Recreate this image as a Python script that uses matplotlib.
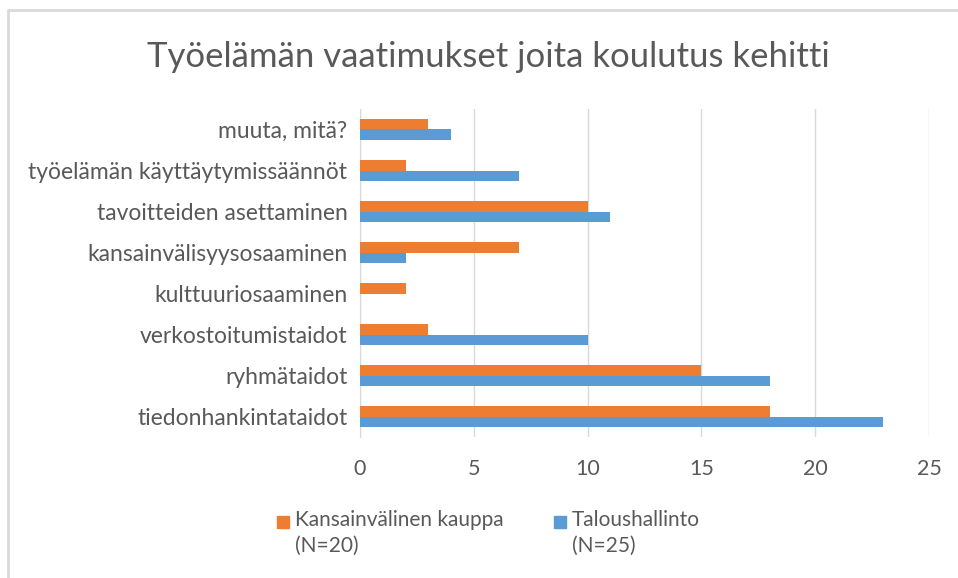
import matplotlib
matplotlib.use("Agg")
import matplotlib.pyplot as plt
from matplotlib.patches import Rectangle
from matplotlib.lines import Line2D
import numpy as np

categories = [
    "tiedonhankintataidot",
    "ryhmätaidot",
    "verkostoitumistaidot",
    "kulttuuriosaaminen",
    "kansainvälisyysosaaminen",
    "tavoitteiden asettaminen",
    "työelämän käyttäytymissäännöt",
    "muuta, mitä?",
]
kauppa = [18, 15, 3, 2, 7, 10, 2, 3]
talous = [23, 18, 10, 0, 2, 11, 7, 4]
x_ticks = [0, 5, 10, 15, 20, 25]
series_labels = ["Kansainvälinen kauppa\n(N=20)", "Taloushallinto\n(N=25)"]

ORANGE = "#ed7d31"
BLUE = "#5b9bd5"
TEXT = "#595959"

plt.rcParams["font.family"] = ["Lato", "DejaVu Sans"]

W, H = 958, 578
fig = plt.figure(figsize=(W / 100, H / 100), dpi=100)

# chart border, only left and top edges are visible in the crop
fig.add_artist(Line2D([8 / W, 8 / W, 1], [0, 1 - 10 / H, 1 - 10 / H],
                      transform=fig.transFigure, color="#d9d9d9", linewidth=2))

ax = fig.add_axes([360 / W, 1 - 437 / H, (929 - 360) / W, (437 - 109) / H])

y = np.arange(len(categories))
h = 0.26
ax.barh(y + h / 2, kauppa, height=h, color=ORANGE, label=series_labels[0], zorder=3)
ax.barh(y - h / 2, talous, height=h, color=BLUE, label=series_labels[1], zorder=3)

ax.set_xlim(0, 25)
ax.set_ylim(-0.5, len(categories) - 0.5)
ax.set_xticks(x_ticks)
ax.set_yticks(y, labels=categories)
ax.grid(axis="x", color="#d9d9d9", linewidth=1, zorder=0)
for side in ["top", "right", "bottom"]:
    ax.spines[side].set_visible(False)
ax.spines["left"].set_color("#d9d9d9")
ax.tick_params(length=0, labelcolor=TEXT)
ax.tick_params(axis="x", pad=16, labelsize=15.5)
ax.tick_params(axis="y", pad=9, labelsize=16.5)

fig.text(488 / W, 1 - 57 / H, "Työelämän vaatimukset joita koulutus kehitti",
         ha="center", va="center", fontsize=25, color=TEXT)

# legend
for lab, col, lx in zip(series_labels, [ORANGE, BLUE], [277, 554]):
    fig.patches.append(Rectangle((lx / W, 1 - 528 / H), 12 / W, 12 / H,
                                 transform=fig.transFigure, color=col))
    fig.text((lx + 18) / W, 1 - 510 / H, lab, ha="left", va="top",
             fontsize=15, color=TEXT, linespacing=1.35)

fig.savefig("out.png", dpi=100)
